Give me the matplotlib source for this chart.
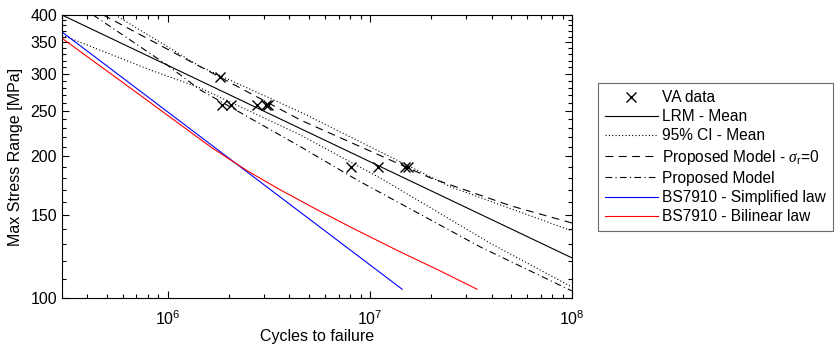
import numpy as np
import matplotlib
matplotlib.use("Agg")
import matplotlib.pyplot as plt
from matplotlib.ticker import FixedLocator, NullFormatter, FixedFormatter

plt.rcParams['font.family'] = ['Liberation Sans', 'DejaVu Sans']
plt.rcParams['mathtext.fontset'] = 'custom'
plt.rcParams['mathtext.it'] = 'Liberation Serif:italic'
plt.rcParams['mathtext.rm'] = 'Liberation Sans'

# VA test data
va_cycles = [1.82e6, 1.86e6, 2.06e6, 2.77e6, 3.07e6, 3.14e6, 8.07e6, 1.098e7, 1.50e7, 1.55e7]
va_stress = [295.0, 256.8, 256.8, 256.8, 256.8, 256.8, 190.3, 190.3, 190.3, 190.3]

# LRM mean
lrm_cycles = [3e5, 1e8]
lrm_stress = [400.0, 121.7]

# 95% CI bounds
ci_up_cycles = [5.5e5, 1.45e6, 4.53e6, 2.5e7, 1e8]
ci_up_stress = [400.0, 310.6, 248.7, 172.5, 138.9]
ci_lo_cycles = [3e5, 8.19e5, 1.45e6, 4.53e6, 1.17e7, 3.95e7, 1e8]
ci_lo_stress = [362.6, 305.6, 279.8, 222.3, 178.3, 130.7, 105.5]

# proposed model, sigma_r = 0
pm0_cycles = [4.8e5, 4.53e6, 2.0e7, 5.0e7, 1e8]
pm0_stress = [400.0, 239.2, 180.0, 157.0, 144.4]

# proposed model
pm_cycles = [4.28e5, 9.94e5, 1.45e6, 4.53e6, 8.64e6, 3.52e7, 1e8]
pm_stress = [400.0, 313.1, 277.1, 209.9, 178.3, 128.4, 103.5]

# BS7910 curves
bs_simp_cycles = [3e5, 1.444e7]
bs_simp_stress = [368.1, 104.4]
bs_bil_cycles = [3e5, 7.06e5, 1.66e6, 2.5e6, 3.61e6, 5.5e6, 8.01e6, 1.416e7, 2.2e7, 3.39e7]
bs_bil_stress = [357.0, 273.0, 208.5, 186.0, 169.8, 154.0, 141.6, 125.3, 114.5, 104.4]

fig = plt.figure(figsize=(8.35, 3.5), dpi=100)
ax = fig.add_axes([62/835, 52/350, 510/835, 283/350])

lw = 0.8
ax.plot(va_cycles, va_stress, 'x', color='k', markersize=7, markeredgewidth=1.0, label='VA data')
ax.plot(lrm_cycles, lrm_stress, '-', color='k', lw=lw, label='LRM - Mean')
ax.plot(ci_up_cycles, ci_up_stress, color='k', lw=lw, ls=(0, (1, 2)), label='95% CI - Mean')
ax.plot(ci_lo_cycles, ci_lo_stress, color='k', lw=lw, ls=(0, (1, 2)))
ax.plot(pm0_cycles, pm0_stress, color='k', lw=lw, ls=(0, (7, 5)),
        label=r'Proposed Model - $\sigma_{\mathrm{r}}$=0')
ax.plot(pm_cycles, pm_stress, color='k', lw=lw, ls=(0, (6, 3, 1, 3)), label='Proposed Model')
ax.plot(bs_simp_cycles, bs_simp_stress, color='b', lw=lw, label='BS7910 - Simplified law')
ax.plot(bs_bil_cycles, bs_bil_stress, color='r', lw=lw, label='BS7910 - Bilinear law')

ax.set_xscale('log')
ax.set_yscale('log')
ax.set_xlim(3e5, 1e8)
ax.set_ylim(100, 400)

yt = [100, 150, 200, 250, 300, 350, 400]
ax.yaxis.set_major_locator(FixedLocator(yt))
ax.yaxis.set_major_formatter(FixedFormatter([str(v) for v in yt]))
ax.yaxis.set_minor_locator(FixedLocator([v for v in range(110, 400, 10) if v not in yt]))
ax.yaxis.set_minor_formatter(NullFormatter())

ax.tick_params(which='both', direction='in', top=True, right=True, labelsize=11.5, width=0.8)
ax.tick_params(which='major', length=5)
ax.tick_params(which='minor', length=3)
ax.tick_params(axis='x', which='major', pad=8)
for s in ax.spines.values():
    s.set_linewidth(0.8)

ax.set_xlabel('Cycles to failure', fontsize=11.5, labelpad=1)
ax.set_ylabel('Max Stress Range [MPa]', fontsize=11.5, labelpad=5)

leg = ax.legend(loc='upper left', bbox_to_anchor=(598/835, 1 - 83/350), bbox_transform=fig.transFigure,
                fontsize=11.2, frameon=True, fancybox=False, edgecolor='#444444',
                handlelength=3.4, handletextpad=0.25, borderpad=0.45, labelspacing=0.27, borderaxespad=0)
leg.get_frame().set_linewidth(0.8)

fig.savefig('out.png', dpi=100)
